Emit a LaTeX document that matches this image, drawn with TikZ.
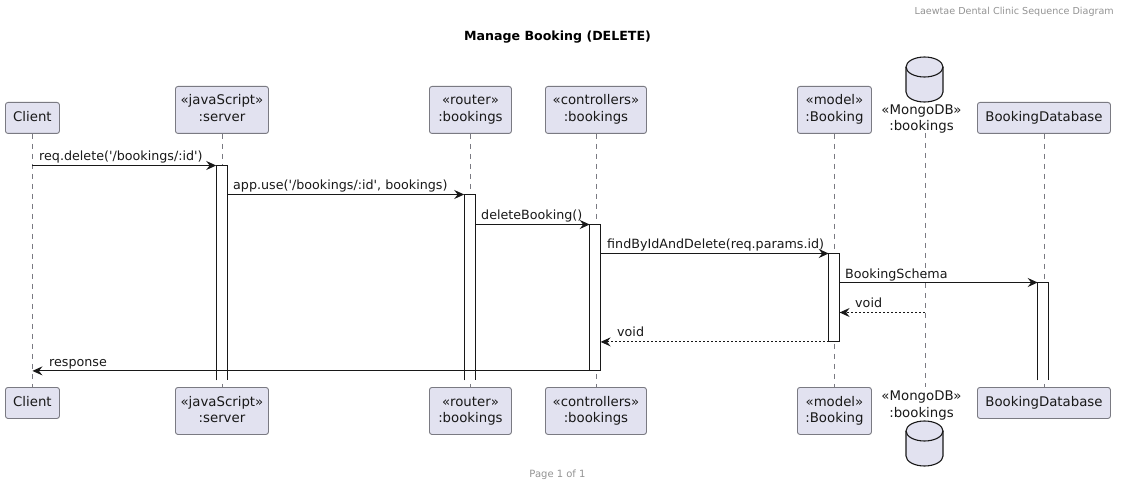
\documentclass[tikz,border=0pt]{standalone}
\usepackage{fontspec}
\setmainfont[Ligatures=TeXOff]{DejaVu Sans}
\usetikzlibrary{arrows.meta}
\definecolor{pfill}{HTML}{E2E2F0}
\definecolor{pline}{HTML}{7A7A82}
\definecolor{ink}{HTML}{181818}
\tikzset{
 x=1pt,y=-1pt,
 part/.style={draw=pline,fill=pfill,line width=.9pt,rounded corners=2.5pt,inner sep=0pt,font=\fontsize{13.3}{16.5}\selectfont,text=ink,anchor=north west},
 dblabel/.style={inner sep=0pt,align=center,font=\fontsize{13.3}{16.5}\selectfont,text=ink},
 lifeline/.style={draw=pline,line width=.7pt,dash pattern=on 5pt off 5pt},
 actbar/.style={fill=white,inner sep=0pt,anchor=north west,minimum width=10.5pt},
 barline/.style={draw=ink,line width=1pt},
 msg/.style={draw=ink,line width=1pt,-{Stealth[length=10pt,width=9pt,inset=3.5pt]}},
 ret/.style={msg,dash pattern=on 2pt off 2pt},
 lab/.style={inner sep=0pt,anchor=base west,font=\fontsize{12.7}{15}\selectfont,text=ink},
 dbshape/.style={draw=ink,fill=pfill,line width=1.1pt},
 dbedge/.style={draw=ink,line width=1.1pt},
}
\newcommand{\partbox}[6]{% name x1 y1 x2 y2 text
 \node[part,minimum width=#4 pt-#2 pt,minimum height=#5 pt-#3 pt] (#1) at (#2,#3) {\raisebox{-1.2pt}{\begin{tabular}{@{}c@{}}#6\end{tabular}}};}
\newcommand{\dbdrum}[2]{% x centre, y top
 \begin{scope}[shift={(#1,#2)}]
 \draw[dbshape] (-18.5,10) .. controls (-18.5,4.5) and (-10.2,0) .. (0,0) .. controls (10.2,0) and (18.5,4.5) .. (18.5,10)
   -- (18.5,35) .. controls (18.5,40.5) and (10.2,45) .. (0,45) .. controls (-10.2,45) and (-18.5,40.5) .. (-18.5,35) -- cycle;
 \draw[dbedge] (-18.5,10) .. controls (-18.5,15.5) and (-10.2,20) .. (0,20) .. controls (10.2,20) and (18.5,15.5) .. (18.5,10);
 \end{scope}}
\begin{document}
\begin{tikzpicture}
\useasboundingbox (0,0) rectangle (1121,486);
% header, title, footer
\node[inner sep=0pt,anchor=base east,font=\fontsize{9.6}{12}\selectfont,text=gray!85] (head) at (1114,15) {Laewtae Dental Clinic Sequence Diagram};
\node[inner sep=0pt,anchor=base,font=\fontsize{12.6}{16}\selectfont\bfseries,text=black] (title) at (557.5,41) {Manage Booking (DELETE)};
\node[inner sep=0pt,anchor=base,font=\fontsize{10}{12}\selectfont,text=gray!85] (foot) at (557.5,477) {Page 1 of 1};
% top participants
\partbox{clientT}{5}{102}{59}{133}{Client}
\partbox{serverT}{175}{86}{268}{133}{«javaScript»\\:server}
\partbox{routerT}{429}{86}{511}{133}{«router»\\:bookings}
\partbox{ctrlT}{545}{86}{646}{133}{«controllers»\\:bookings}
\partbox{modelT}{797}{86}{871}{133}{«model»\\:Booking}
\dbdrum{924.5}{57}
\coordinate (mongoT) at (925,133);
\node[dblabel] (mongoTl) at (921.5,119) {«MongoDB»\\:bookings};
\partbox{dbT}{977}{102}{1110}{133}{BookingDatabase}
% bottom participants
\partbox{clientB}{5}{387}{59}{418}{Client}
\partbox{serverB}{175}{387}{268}{434}{«javaScript»\\:server}
\partbox{routerB}{429}{387}{511}{434}{«router»\\:bookings}
\partbox{ctrlB}{545}{387}{646}{434}{«controllers»\\:bookings}
\partbox{modelB}{797}{387}{871}{434}{«model»\\:Booking}
\coordinate (mongoB) at (925,387);
\node[dblabel] (mongoBl) at (921.5,405.5) {«MongoDB»\\:bookings};
\dbdrum{924.5}{421}
\partbox{dbB}{977}{387}{1110}{418}{BookingDatabase}
% lifelines
\foreach \a/\b in {clientT/clientB,serverT/serverB,routerT/routerB,ctrlT/ctrlB,modelT/modelB,dbT/dbB}
  \draw[lifeline] (\a.south) -- (\b.north);
\draw[lifeline] (mongoT) -- (mongoB);
% activations
\node[actbar,minimum height=214.5pt] (aS) at (216.2,165.5) {};
\node[actbar,minimum height=185.5pt] (aR) at (464.2,194.5) {};
\node[actbar,minimum height=146pt] (aC) at (589.7,224.5) {};
\node[actbar,minimum height=88pt] (aM) at (828.7,253.5) {};
\node[actbar,minimum height=97.5pt] (aD) at (1037.7,282.5) {};
\foreach \n in {aS,aR,aD}
  \draw[barline] (\n.south west) -- (\n.north west) -- (\n.north east) -- (\n.south east);
\foreach \n in {aC,aM}
  \draw[barline] (\n.south west) rectangle (\n.north east);
% messages
\coordinate (m6) at (0,312.5);
\draw[msg] (clientT.south |- aS.north west) -- (aS.north west);
\draw[msg] (aS.east |- aR.north) -- (aR.north west);
\draw[msg] (aR.east |- aC.north) -- (aC.north west);
\draw[msg] (aC.east |- aM.north) -- (aM.north west);
\draw[msg] (aM.east |- aD.north) -- (aD.north west);
\draw[ret] (mongoT |- m6) -- (aM.east |- m6);
\draw[ret] (aM.south west) -- (aC.east |- aM.south);
\draw[msg] (aC.south east) -- (clientT.south |- aC.south);
% labels
\node[lab] (l1) at (39,160.5) {req.delete('/bookings/:id')};
\node[lab] (l2) at (233,190) {app.use('/bookings/:id', bookings)};
\node[lab] (l3) at (481,219.5) {deleteBooking()};
\node[lab] (l4) at (607,248.5) {findByIdAndDelete(req.params.id)};
\node[lab] (l5) at (845,278) {BookingSchema};
\node[lab] (l6) at (855,307.5) {void};
\node[lab] (l7) at (617,336.5) {void};
\node[lab] (l8) at (49,366) {response};
\end{tikzpicture}
\end{document}
